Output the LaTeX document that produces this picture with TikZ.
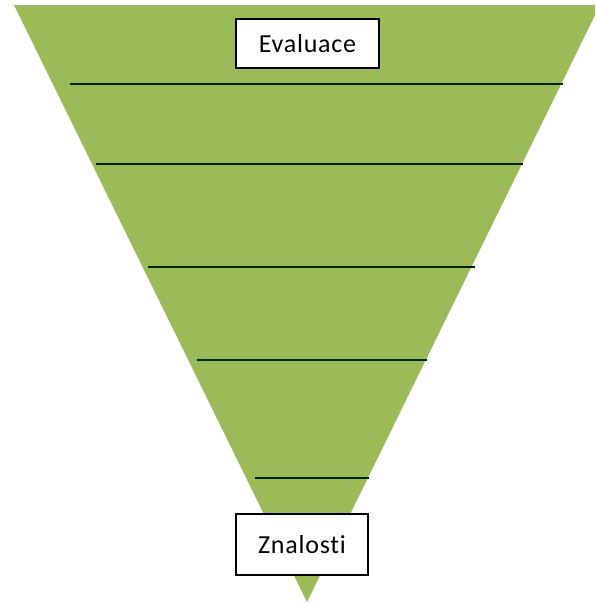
\documentclass[tikz,border=0pt]{standalone}
\usepackage{fontspec}
\setmainfont{Carlito}[LetterSpace=3, Ligatures={NoCommon, NoRare}]
\definecolor{funnelgreen}{RGB}{155,187,89}
\begin{document}
\begin{tikzpicture}[x=1pt, y=-1pt, level/.style = {line width=1.8pt, draw=black!85!green}, label/.style = {draw, line width=1.3pt, fill=white, inner sep=0pt, font=\fontsize{26}{29}\selectfont}]
    \useasboundingbox (0,0) rectangle (595,603);
    \clip (0,0) rectangle (595,603);
    \fill[funnelgreen] (14,5) -- (600,5) -- (307,602) -- cycle;
    % dividing lines
    \foreach \y/\l/\r in {84/70/563, 164/96/523, 267/148/475, 360/197/427, 478/255/369}
        \draw[level] (\l,\y) -- (\r,\y);
    \node[label, minimum width=143pt, minimum height=49pt] (eval) at (307.5,43.5) {Evaluace};
    \node[label, minimum width=132pt, minimum height=61pt] (know) at (302,544.5) {Znalosti};
\end{tikzpicture}
\end{document}
